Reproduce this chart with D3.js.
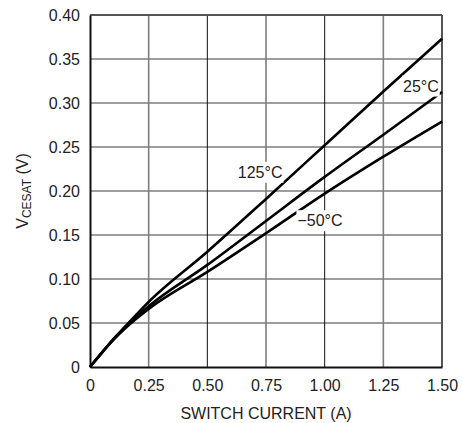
<!DOCTYPE html>
<html>
<head>
<meta charset="utf-8">
<script src="https://cdn.jsdelivr.net/npm/d3@7"></script>
<style>
  body { margin: 0; background: #fff; }
  svg text { font-family: "Liberation Sans", Arial, Helvetica, sans-serif; fill: #222; }
</style>
</head>
<body>
<div id="chart"></div>
<script>
"use strict"

// switch current (A) where the curves are sampled
var current = [0, 0.05, 0.1, 0.15, 0.25, 0.5, 0.75, 1.0, 1.25, 1.5];
// saturation voltage (V) for each temperature
var vsat125 = [0, 0.016, 0.032, 0.046, 0.074, 0.131, 0.191, 0.252, 0.313, 0.373];
var vsat25 = [0, 0.016, 0.031, 0.045, 0.069, 0.116, 0.166, 0.216, 0.264, 0.3125];
var vsatM50 = [0, 0.016, 0.031, 0.044, 0.066, 0.108, 0.152, 0.197, 0.239, 0.279];

var xTicks = [0, 0.25, 0.5, 0.75, 1.0, 1.25, 1.5];
var yTicks = [0, 0.05, 0.10, 0.15, 0.20, 0.25, 0.30, 0.35, 0.40];

// curve labels: text, current and voltage where the label sits
var labels = [
    {text: "125°C", x: 0.725, y: 0.215},
    {text: "25°C", x: 1.41, y: 0.313},
    {text: "\u221250°C", x: 0.98, y: 0.16}
];

var margin = {top: 15, right: 20, bottom: 56, left: 90};
var width = 462 - margin.left - margin.right;
var height = 423 - margin.top - margin.bottom;
var fontSize = 16;

var svg = d3.select("#chart")
    .append("svg")
    .attr("width", 462)
    .attr("height", 423)
    .append("g")
    .attr("transform", "translate(" + margin.left + "," + margin.top + ")");

var x = d3.scaleLinear().domain([0, 1.5]).range([0, width]);
var y = d3.scaleLinear().domain([0, 0.4]).range([height, 0]);

var fmt = function(d) { return d === 0 ? "0" : d3.format(".2f")(d); };

// grid
svg.selectAll(".hgrid")
    .data(yTicks.slice(1, -1))
    .enter().append("line")
    .attr("x1", 0).attr("x2", width)
    .attr("y1", function(d) { return y(d); })
    .attr("y2", function(d) { return y(d); })
    .attr("stroke", "#7d7d7d")
    .attr("stroke-width", 1.6);

svg.selectAll(".vgrid")
    .data(xTicks.slice(1, -1))
    .enter().append("line")
    .attr("x1", function(d) { return x(d); })
    .attr("x2", function(d) { return x(d); })
    .attr("y1", 0).attr("y2", height)
    .attr("stroke", function(d) { return d === 0.5 || d === 1.0 ? "#111" : "#7d7d7d"; })
    .attr("stroke-width", function(d) { return d === 0.5 || d === 1.0 ? 1 : 1.6; });

// frame: top and right grey
svg.append("line").attr("x1", 0).attr("x2", width).attr("y1", 0).attr("y2", 0)
    .attr("stroke", "#555").attr("stroke-width", 2);
svg.append("line").attr("x1", width).attr("x2", width).attr("y1", 0).attr("y2", height)
    .attr("stroke", "#555").attr("stroke-width", 2);

// axes (left and bottom in black)
var xAxis = svg.append("g")
    .attr("transform", "translate(0," + height + ")")
    .call(d3.axisBottom(x).tickValues(xTicks).tickFormat(fmt).tickSize(0).tickPadding(13));
xAxis.select(".domain").attr("stroke", "#111").attr("stroke-width", 2);
xAxis.selectAll("text").attr("font-size", fontSize).attr("fill", "#222");

var yAxis = svg.append("g")
    .call(d3.axisLeft(y).tickValues(yTicks).tickFormat(fmt).tickSize(0).tickPadding(10));
yAxis.select(".domain").attr("stroke", "#111").attr("stroke-width", 2);
yAxis.selectAll("text").attr("font-size", fontSize).attr("fill", "#222");

// curves
var line = d3.line()
    .x(function(d) { return x(d[0]); })
    .y(function(d) { return y(d[1]); })
    .curve(d3.curveMonotoneX);

[vsat125, vsat25, vsatM50].forEach(function(series) {
    svg.append("path")
        .datum(d3.zip(current, series))
        .attr("fill", "none")
        .attr("stroke", "#000")
        .attr("stroke-width", 2.6)
        .attr("d", line);
});

// curve labels with a white box behind them
labels.forEach(function(l) {
    var t = svg.append("text")
        .attr("x", x(l.x))
        .attr("y", y(l.y))
        .attr("text-anchor", "middle")
        .attr("font-size", fontSize)
        .text(l.text);
    var b = t.node().getBBox();
    svg.insert("rect", function() { return t.node(); })
        .attr("x", b.x - 1).attr("y", b.y - 2)
        .attr("width", b.width + 2).attr("height", b.height + 4)
        .attr("fill", "#fff");
});

// axis titles
svg.append("text")
    .attr("x", width / 2)
    .attr("y", height + 52)
    .attr("text-anchor", "middle")
    .attr("font-size", fontSize)
    .text("SWITCH CURRENT (A)");

var yt = svg.append("text")
    .attr("transform", "translate(-62," + (height / 2) + ") rotate(-90)")
    .attr("text-anchor", "middle")
    .attr("font-size", fontSize);
yt.append("tspan").text("V");
yt.append("tspan").attr("font-size", 12).attr("dy", 3).text("CESAT");
yt.append("tspan").attr("dy", -3).text(" (V)");
</script>
</body>
</html>
